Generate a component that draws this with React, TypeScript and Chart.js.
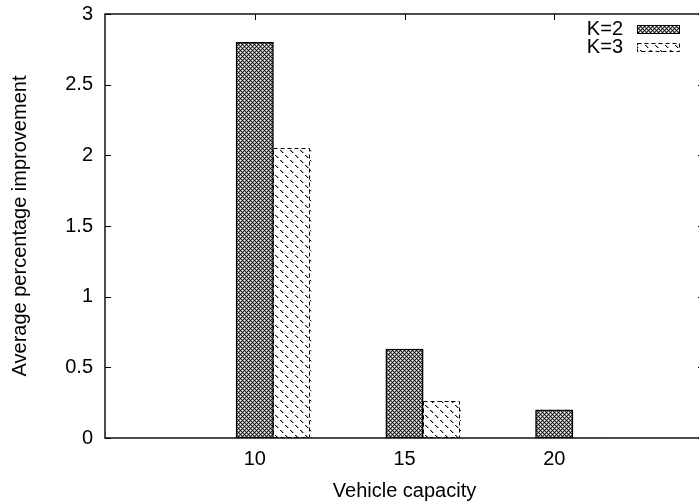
import React, { useEffect, useRef } from 'react';
import { Chart, registerables } from 'chart.js';

Chart.register(...registerables);

// ---- data ----
const categories = ['10', '15', '20'];
const seriesLabels = ['K=2', 'K=3'];
const k2Values = [2.8, 0.63, 0.2];
const k3Values = [2.05, 0.26, 0];
const yTicks = [0, 0.5, 1, 1.5, 2, 2.5, 3];
const xTitle = 'Vehicle capacity';
const yTitle = 'Average percentage improvement';

// ---- style ----
const FONT = '"Liberation Sans", Arial, Helvetica, sans-serif';
const FONT_SIZE = 20;
const BOX = 0.25; // gnuplot clustered-histogram box width, in category units
const TICK_LEN = 6;

function makeCrossPattern(ctx: CanvasRenderingContext2D) {
  const c = document.createElement('canvas');
  c.width = 4;
  c.height = 4;
  const g = c.getContext('2d')!;
  const W = 255, G = 150, D = 50, K = 0;
  const px = [
    [W, G, K, G],
    [G, D, G, D],
    [K, G, W, G],
    [G, D, G, D],
  ];
  const img = g.createImageData(4, 4);
  for (let yy = 0; yy < 4; yy++) {
    for (let xx = 0; xx < 4; xx++) {
      const i = (yy * 4 + xx) * 4;
      const v = px[yy][xx];
      img.data[i] = v;
      img.data[i + 1] = v;
      img.data[i + 2] = v;
      img.data[i + 3] = 255;
    }
  }
  g.putImageData(img, 0, 0);
  return ctx.createPattern(c, 'repeat')!;
}

function makeHatchPattern(ctx: CanvasRenderingContext2D) {
  const n = 10;
  const c = document.createElement('canvas');
  c.width = n;
  c.height = n;
  const g = c.getContext('2d')!;
  g.fillStyle = '#fff';
  g.fillRect(0, 0, n, n);
  for (let i = 0; i < n; i++) {
    if (i % 5 < 3) {
      g.fillStyle = '#111';
      g.fillRect(i, i, 1, 1);
      g.fillStyle = '#aaa';
      g.fillRect((i + 1) % n, i, 1, 1);
    }
  }
  return ctx.createPattern(c, 'repeat')!;
}

const framePlugin = {
  id: 'gnuplotFrame',
  beforeDatasetsDraw(chart: any) {
    const { ctx, chartArea: a, scales } = chart;
    const xs = scales.x;
    const ys = scales.y;
    ctx.save();
    ctx.strokeStyle = '#000';
    ctx.lineWidth = 1;
    ctx.beginPath();
    yTicks.forEach((v) => {
      const py = Math.round(ys.getPixelForValue(v)) + 0.5;
      ctx.moveTo(a.left, py);
      ctx.lineTo(a.left + TICK_LEN, py);
      ctx.moveTo(a.right, py);
      ctx.lineTo(a.right - TICK_LEN, py);
    });
    categories.forEach((_, i) => {
      const px = Math.round(xs.getPixelForValue(i)) + 0.5;
      ctx.moveTo(px, a.top);
      ctx.lineTo(px, a.top + TICK_LEN);
      ctx.moveTo(px, a.bottom);
      ctx.lineTo(px, a.bottom - TICK_LEN);
    });
    ctx.stroke();
    ctx.restore();
  },
  afterDatasetsDraw(chart: any) {
    const { ctx, chartArea: a } = chart;
    ctx.save();
    // dashed outline for K=3 boxes
    ctx.strokeStyle = '#000';
    ctx.lineWidth = 1;
    ctx.setLineDash([4, 3]);
    const meta = chart.getDatasetMeta(1);
    meta.data.forEach((el: any) => {
      const { x, y, base, width } = el;
      if (Math.abs(base - y) < 0.5) return;
      ctx.strokeRect(Math.round(x - width / 2) + 0.5, Math.round(y) + 0.5, Math.round(width) - 1, Math.round(base - y) - 1);
    });
    ctx.setLineDash([]);
    // frame
    ctx.lineWidth = 1.5;
    ctx.strokeStyle = '#111';
    ctx.strokeRect(a.left, a.top, a.right - a.left, a.bottom - a.top);

    // key (legend), top right inside the plot
    ctx.font = `${FONT_SIZE}px ${FONT}`;
    ctx.textAlign = 'right';
    ctx.textBaseline = 'middle';
    ctx.fillStyle = '#000';
    chart.data.datasets.forEach((ds: any, i: number) => {
      const cy = a.top + 15 + i * 18;
      ctx.fillText(ds.label, a.right - 81, cy);
      const bx = a.right - 67;
      const bw = 43;
      const bh = 9;
      const by = Math.round(cy - bh / 2);
      ctx.fillStyle = ds.backgroundColor;
      ctx.fillRect(bx, by, bw, bh);
      ctx.lineWidth = 1;
      ctx.strokeStyle = '#000';
      if (i === 1) ctx.setLineDash([4, 3]);
      ctx.strokeRect(bx + 0.5, by + 0.5, bw - 1, bh - 1);
      ctx.setLineDash([]);
      ctx.fillStyle = '#000';
    });
    ctx.restore();
  },
};

export default function App() {
  const ref = useRef<HTMLCanvasElement>(null);

  useEffect(() => {
    const canvas = ref.current!;
    const ctx = canvas.getContext('2d')!;
    const cross = makeCrossPattern(ctx);
    const hatch = makeHatchPattern(ctx);

    const chart = new Chart(ctx, {
      type: 'bar',
      data: {
        datasets: [
          {
            label: seriesLabels[0],
            data: k2Values.map((v, i) => ({ x: i, y: v })),
            backgroundColor: cross as any,
            borderColor: '#000',
            borderWidth: 1.5,
            borderSkipped: false,
          },
          {
            label: seriesLabels[1],
            data: k3Values.map((v, i) => ({ x: i + BOX, y: v })),
            backgroundColor: hatch as any,
            borderWidth: 0,
          },
        ],
      },
      options: {
        responsive: false,
        devicePixelRatio: 1,
        animation: false,
        grouped: false,
        barPercentage: 1,
        categoryPercentage: 1,
        layout: { padding: { top: 14, right: 6, left: 0, bottom: 0 } },
        plugins: {
          legend: { display: false },
          tooltip: { enabled: false },
        },
        scales: {
          x: {
            type: 'linear',
            offset: false,
            min: -1,
            max: categories.length,
            afterBuildTicks: (scale: any) => {
              scale.ticks = categories.map((_, i) => ({ value: i }));
            },
            afterFit: (scale: any) => {
              scale.height = 66;
              scale.paddingLeft = 0;
              scale.paddingRight = 0;
            },
            grid: { display: false, drawTicks: false },
            border: { display: false },
            ticks: {
              autoSkip: false,
              maxRotation: 0,
              padding: 9,
              color: '#000',
              font: { family: FONT, size: FONT_SIZE },
              callback: (v: any) => categories[Number(v)] ?? '',
            },
            title: {
              display: true,
              text: xTitle,
              color: '#000',
              font: { family: FONT, size: FONT_SIZE },
              padding: { top: 0, bottom: 1 },
            },
          },
          y: {
            min: 0,
            max: 3,
            afterBuildTicks: (scale: any) => {
              scale.ticks = yTicks.map((v) => ({ value: v }));
            },
            afterFit: (scale: any) => {
              scale.width = 105;
              scale.paddingTop = 0;
              scale.paddingBottom = 0;
            },
            grid: { display: false, drawTicks: false },
            border: { display: false },
            ticks: {
              padding: 12,
              color: '#000',
              font: { family: FONT, size: FONT_SIZE },
              callback: (v: any) => String(v),
            },
            title: {
              display: true,
              text: yTitle,
              color: '#000',
              font: { family: FONT, size: FONT_SIZE },
              padding: { top: 8, bottom: 0 },
            },
          },
        },
      } as any,
      plugins: [framePlugin],
    });
    return () => chart.destroy();
  }, []);

  return (
    <div
      style={{
        position: 'fixed',
        left: 0,
        top: 0,
        width: 699,
        height: 504,
        overflow: 'hidden',
        background: '#fff',
      }}
    >
      <canvas ref={ref} width={710} height={504} style={{ display: 'block' }} />
    </div>
  );
}
